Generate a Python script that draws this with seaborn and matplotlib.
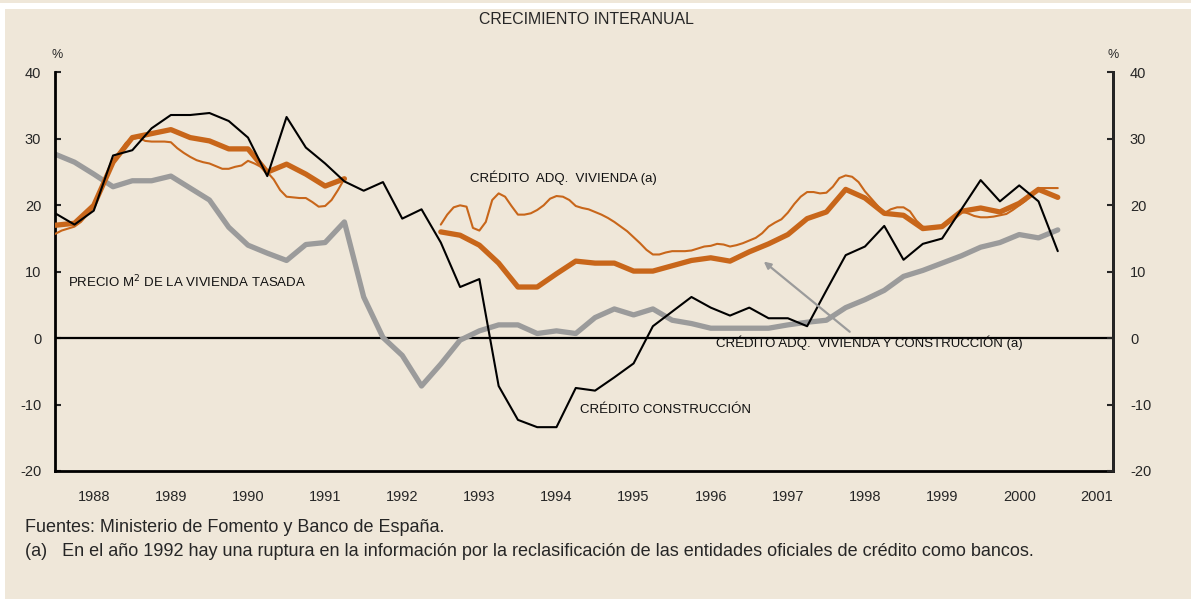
import numpy as np
import pandas as pd
import seaborn as sns
import matplotlib.pyplot as plt
from matplotlib.patches import Rectangle

# quarterly series, 1988Q1 .. 2001Q1
credito_construccion = [18.8, 17.1, 19.2, 27.5, 28.3, 31.6, 33.6, 33.6, 33.9, 32.7, 30.2, 24.4, 33.3,
                        28.7, 26.3, 23.6, 22.2, 23.5, 18.0, 19.4, 14.4, 7.7, 8.9, -7.2, -12.3, -13.4,
                        -13.4, -7.5, -7.9, -5.9, -3.8, 1.8, 4.0, 6.2, 4.6, 3.4, 4.6, 3.0, 3.0, 1.8,
                        7.2, 12.5, 13.8, 16.9, 11.8, 14.2, 15.0, 19.4, 23.8, 20.6, 23.0, 20.6, 13.1]
precio_m2 = [27.7, 26.5, 24.7, 22.8, 23.7, 23.7, 24.4, 22.6, 20.8, 16.7, 14.0, 12.8, 11.7, 14.1,
             14.4, 17.5, 6.2, 0.1, -2.6, -7.2, -3.9, -0.3, 1.1, 2.0, 2.0, 0.7, 1.1, 0.7, 3.1, 4.4,
             3.5, 4.4, 2.7, 2.2, 1.5, 1.5, 1.5, 1.5, 2.0, 2.4, 2.7, 4.6, 5.8, 7.2, 9.3, 10.2, 11.3,
             12.4, 13.7, 14.4, 15.6, 15.1, 16.3]
# credito adq. vivienda y construccion (quarterly, break in 1992)
viv_constr_a = [17.0, 17.3, 20.0, 26.5, 30.2, 30.8, 31.4, 30.2, 29.7, 28.5, 28.5, 25.0, 26.2, 24.7,
                22.9, 24.0]  # 1988Q1 .. 1991Q4
viv_constr_b = [16.0, 15.5, 14.0, 11.3, 7.7, 7.7, 9.7, 11.6, 11.3, 11.3, 10.1, 10.1, 10.9, 11.7,
                12.1, 11.6, 13.0, 14.2, 15.6, 18.0, 19.0, 22.4, 21.1, 18.8, 18.5, 16.5, 16.8, 19.1,
                19.6, 19.0, 20.3, 22.4, 21.2]  # 1993Q1 .. 2001Q1
# credito adq. vivienda (monthly, break in 1992)
vivienda_a = [15.7, 16.2, 16.5, 16.8, 17.5, 18.6, 19.8, 22.0, 24.3, 26.5, 28.0, 29.4, 30.0, 30.2,
              29.7, 29.6, 29.6, 29.6, 29.5, 28.6, 27.9, 27.3, 26.8, 26.5, 26.3, 25.9, 25.5, 25.5,
              25.8, 26.0, 26.7, 26.3, 25.8, 25.0, 23.9, 22.3, 21.3, 21.2, 21.1, 21.1, 20.5, 19.8,
              19.9, 20.8, 22.3, 24.0]  # Jan 1988 .. Oct 1991
vivienda_b = [17.1, 18.6, 19.7, 20.0, 19.8, 16.6, 16.2, 17.5, 20.8, 21.8, 21.3, 19.9, 18.6, 18.6,
              18.8, 19.3, 20.0, 21.0, 21.4, 21.3, 20.8, 19.9, 19.6, 19.4, 19.0, 18.6, 18.1, 17.5,
              16.8, 16.1, 15.2, 14.3, 13.3, 12.6, 12.6, 12.9, 13.1, 13.1, 13.1, 13.2, 13.5, 13.8,
              13.9, 14.2, 14.1, 13.8, 14.0, 14.3, 14.7, 15.1, 15.8, 16.8, 17.4, 17.9, 18.9, 20.2,
              21.3, 22.0, 22.0, 21.8, 21.9, 22.8, 24.1, 24.5, 24.3, 23.5, 22.1, 21.0, 19.9, 18.8,
              19.4, 19.7, 19.7, 19.1, 17.7, 16.8, 16.6, 16.7, 16.9, 17.6, 18.5, 19.1, 18.8, 18.4,
              18.2, 18.2, 18.3, 18.5, 18.7, 19.3, 20.0, 20.7, 21.8, 22.6, 22.6, 22.6, 22.6]  # Jan 1993 .. Jan 2001
years = list(range(1988, 2002))

q_all = 1988 + np.arange(len(credito_construccion)) / 4
q_a = 1988 + np.arange(len(viv_constr_a)) / 4
q_b = 1993 + np.arange(len(viv_constr_b)) / 4
m_a = 1988 + np.arange(len(vivienda_a)) / 12
m_b = 1993 + np.arange(len(vivienda_b)) / 12

bg = "#EFE7D9"
orange = "#C8661A"
grey = "#9B9B9B"

sns.set_style("white")
plt.rcParams["font.family"] = ["Liberation Sans", "DejaVu Sans"]
plt.rcParams["axes.unicode_minus"] = False

fig = plt.figure(figsize=(11.91, 5.99), dpi=100, facecolor="white")
fig.patches.append(Rectangle((5 / 1191, 0), 1, 1 - 9 / 599, transform=fig.transFigure,
                             facecolor=bg, edgecolor="none", zorder=-10))
fig.patches.append(Rectangle((0, 1 - 3 / 599), 1, 3 / 599, transform=fig.transFigure,
                             facecolor=bg, edgecolor="none", zorder=-10))
ax = fig.add_axes([55.2 / 1191, 1 - 471 / 599, (1113.3 - 55.2) / 1191, (471 - 72.5) / 599])
ax.set_facecolor(bg)

ax.axhline(0, color="black", lw=1.6, zorder=1)
sns.lineplot(x=q_all, y=precio_m2, ax=ax, color=grey, lw=3.8, zorder=2)
sns.lineplot(x=m_a, y=vivienda_a, ax=ax, color=orange, lw=1.5, zorder=3)
sns.lineplot(x=m_b, y=vivienda_b, ax=ax, color=orange, lw=1.5, zorder=3)
sns.lineplot(x=q_a, y=viv_constr_a, ax=ax, color=orange, lw=3.8, zorder=4)
sns.lineplot(x=q_b, y=viv_constr_b, ax=ax, color=orange, lw=3.8, zorder=4)
sns.lineplot(x=q_all, y=credito_construccion, ax=ax, color="black", lw=1.5, zorder=5)

ax.set_xlim(1988, 2001.72)
ax.set_ylim(-20, 40)
ax.set_yticks(range(-20, 41, 10))
ax.set_xticks([y + 0.5 for y in years])
ax.set_xticklabels([str(y) for y in years])
ax.set_xticks(years[1:], minor=True)
ax.tick_params(axis="x", which="major", length=0, pad=14, labelsize=10.5)
ax.tick_params(axis="x", which="minor", direction="in", length=4, width=1.5)
ax.tick_params(axis="y", direction="in", length=4, width=1.5, pad=10, labelsize=10.5)
ax.spines["top"].set_visible(False)
for s in ["left", "right", "bottom"]:
    ax.spines[s].set_linewidth(2)
    ax.spines[s].set_color("black")

ax2 = ax.twinx()
ax2.set_ylim(-20, 40)
ax2.set_yticks(range(-20, 41, 10))
ax2.tick_params(axis="y", direction="in", length=4, width=1.5, pad=12, labelsize=10.5)
for s in ["top", "left", "bottom"]:
    ax2.spines[s].set_visible(False)
ax2.spines["right"].set_linewidth(2)

ax.annotate("", xy=(1997.16, 11.8), xytext=(1998.33, 0.7),
            arrowprops=dict(arrowstyle="-|>", color=grey, lw=1.6, mutation_scale=10), zorder=6)

kw = dict(fontsize=9.5, color="#111111")
ax.text(1993.38, 23.5, "CRÉDITO  ADQ.  VIVIENDA (a)", **kw)
ax.text(1988.17, 7.6, "PRECIO M$^2$ DE LA VIVIENDA TASADA", **kw)
ax.text(1996.57, -1.3, "CRÉDITO ADQ.  VIVIENDA Y CONSTRUCCIÓN (a)", **kw)
ax.text(1994.8, -11.3, "CRÉDITO CONSTRUCCIÓN", **kw)

fig.text(586 / 1191, 1 - 20 / 599, "CRECIMIENTO INTERANUAL", ha="center", va="center", fontsize=11.4)
fig.text(57 / 1191, 1 - 55 / 599, "%", ha="center", va="center", fontsize=9)
fig.text(1113 / 1191, 1 - 55 / 599, "%", ha="center", va="center", fontsize=9)
fig.text(25 / 1191, 1 - 527 / 599, "Fuentes: Ministerio de Fomento y Banco de España.",
         ha="left", va="center", fontsize=13)
fig.text(25 / 1191, 1 - 552 / 599,
         "(a)   En el año 1992 hay una ruptura en la información por la reclasificación de las entidades oficiales de crédito como bancos.",
         ha="left", va="center", fontsize=13)

fig.savefig("out.png", dpi=100, facecolor=fig.get_facecolor())
